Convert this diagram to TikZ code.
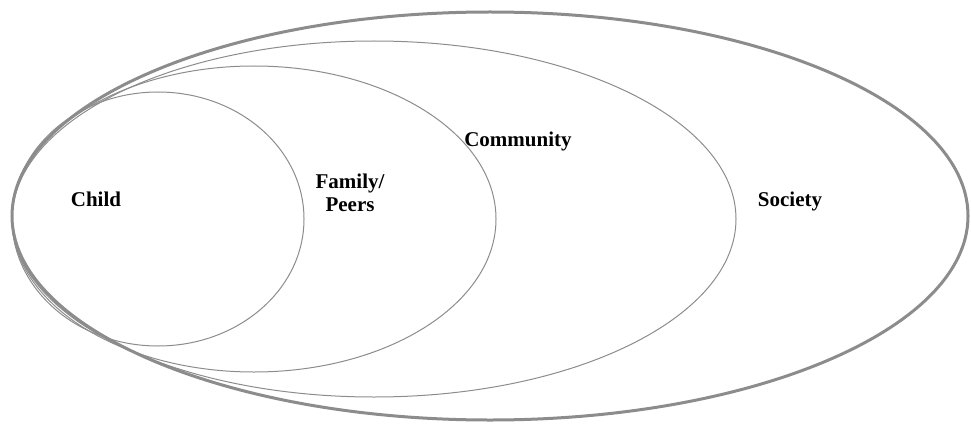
\documentclass[tikz,border=0pt]{standalone}
\usepackage{fontspec}
\setmainfont{Liberation Serif}
\usetikzlibrary{shapes.geometric}
\tikzset{%
	sphere/.style={draw=black!45, ellipse, inner sep=0mm, line width=1pt},
	outer/.style={line width=3pt},
	tag/.style={font=\fontsize{21}{23}\selectfont\bfseries, inner sep=0mm, align=center}
}
\begin{document}
\begin{tikzpicture}[x=1pt, y=-1pt]
	\useasboundingbox (0,0) rectangle (971,425);
	\node[sphere, outer, minimum width=956pt, minimum height=408pt] (society) at (490,216) {};
	\node[sphere, minimum width=724pt, minimum height=356pt] (community) at (374,219) {};
	\node[sphere, minimum width=484pt, minimum height=306pt] (family) at (254,219) {};
	\node[sphere, minimum width=292pt, minimum height=254pt] (child) at (158,219) {};

	\node[tag] (lchild) at (96,199) {Child};
	\node[tag] (lfamily) at (350,193) {Family/\\Peers};
	\node[tag] (lcommunity) at (518,141) {Community};
	\node[tag] (lsociety) at (790,201) {Society};
\end{tikzpicture}
\end{document}
